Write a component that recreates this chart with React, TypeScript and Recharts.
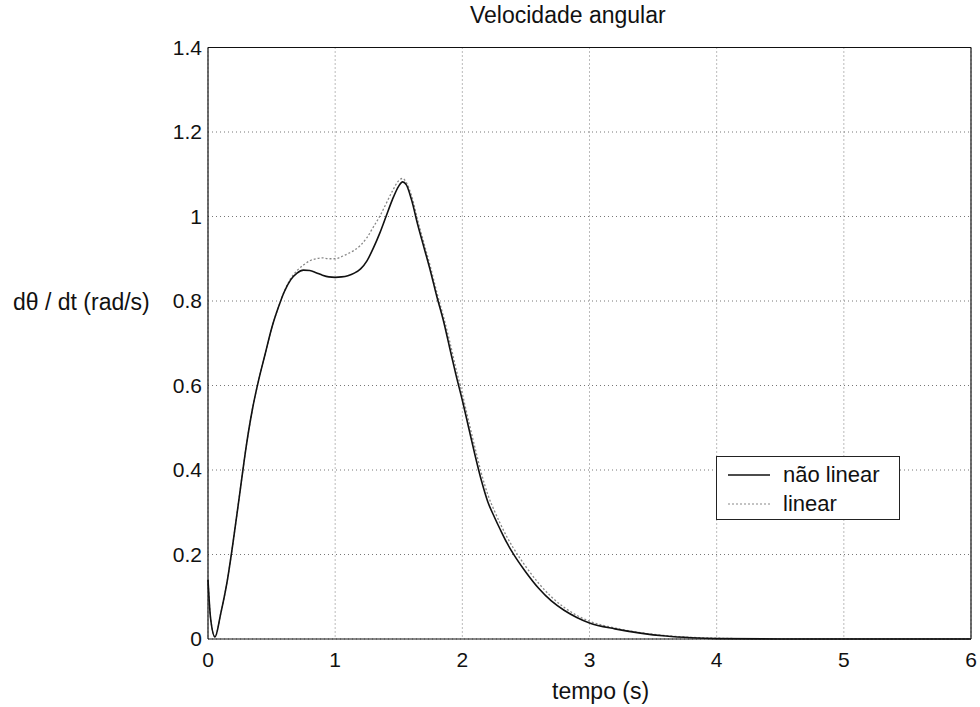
import React from "react";
import { LineChart, Line, XAxis, YAxis, CartesianGrid, ReferenceLine } from "recharts";

const tempo = [0, 0.02, 0.055, 0.1, 0.15, 0.2, 0.25, 0.3, 0.35, 0.4, 0.45, 0.5, 0.55, 0.6, 0.65, 0.7, 0.75, 0.8, 0.85, 0.9, 0.95, 1.0, 1.05, 1.1, 1.15, 1.2, 1.25, 1.3, 1.35, 1.4, 1.45, 1.5, 1.53, 1.56, 1.6, 1.65, 1.7, 1.75, 1.8, 1.85, 1.9, 1.95, 2.0, 2.05, 2.1, 2.15, 2.2, 2.25, 2.3, 2.35, 2.4, 2.5, 2.6, 2.7, 2.8, 2.9, 3.0, 3.2, 3.4, 3.6, 3.8, 4.0, 4.5, 5.0, 5.5, 6.0];
const naoLinear = [0.14, 0.05, 0.005, 0.06, 0.135, 0.235, 0.345, 0.455, 0.545, 0.615, 0.675, 0.735, 0.782, 0.822, 0.85, 0.866, 0.873, 0.872, 0.867, 0.861, 0.857, 0.856, 0.857, 0.86, 0.866, 0.876, 0.895, 0.925, 0.96, 1.0, 1.04, 1.072, 1.082, 1.075, 1.04, 0.98, 0.925, 0.87, 0.81, 0.755, 0.69, 0.625, 0.565, 0.5, 0.435, 0.375, 0.325, 0.29, 0.258, 0.228, 0.202, 0.158, 0.12, 0.09, 0.068, 0.051, 0.038, 0.024, 0.014, 0.007, 0.003, 0.001, 0, 0, 0, 0];
const linear = [0.14, 0.05, 0.005, 0.06, 0.135, 0.235, 0.345, 0.455, 0.545, 0.615, 0.675, 0.735, 0.782, 0.823, 0.853, 0.872, 0.885, 0.895, 0.9, 0.902, 0.9, 0.9, 0.905, 0.912, 0.92, 0.932, 0.95, 0.975, 1.0, 1.03, 1.06, 1.085, 1.09, 1.08, 1.05, 0.99, 0.935, 0.88, 0.82, 0.765, 0.705, 0.64, 0.58, 0.515, 0.452, 0.392, 0.342, 0.305, 0.272, 0.242, 0.216, 0.171, 0.132, 0.1, 0.075, 0.056, 0.042, 0.026, 0.015, 0.008, 0.004, 0.002, 0, 0, 0, 0];

const xTicks = [0, 1, 2, 3, 4, 5, 6];
const yTicks = [0, 0.2, 0.4, 0.6, 0.8, 1.0, 1.2, 1.4];

const data = tempo.map((t, i) => ({ t, nl: naoLinear[i], lin: linear[i] }));

const FONT = '"Liberation Sans", Arial, Helvetica, sans-serif';

const LegendBox = () => (
  <div style={{ width: 184, height: 64, border: "1px solid #222", background: "#fff", fontFamily: FONT, fontSize: 22, color: "#111", boxSizing: "border-box", padding: "3px 0 0 11px" }}>
    <div style={{ display: "flex", alignItems: "center", height: 29 }}>
      <svg width={43} height={4}><line x1={0} y1={2} x2={42} y2={2} stroke="#111" strokeWidth={1.5} /></svg>
      <span style={{ marginLeft: 12 }}>não linear</span>
    </div>
    <div style={{ display: "flex", alignItems: "center", height: 29 }}>
      <svg width={43} height={4}><line x1={0} y1={2} x2={42} y2={2} stroke="#888" strokeWidth={1.2} strokeDasharray="2 2" /></svg>
      <span style={{ marginLeft: 12 }}>linear</span>
    </div>
  </div>
);

export default function App() {
  return (
    <div style={{ position: "fixed", left: 0, top: 0, width: 980, height: 707, background: "#fff", overflow: "hidden" }}>
      <LineChart width={980} height={707} data={data} margin={{ top: 47.5, right: 9, bottom: 28, left: 0 }}>
        <CartesianGrid stroke="#777" strokeDasharray="1 3" horizontalValues={yTicks} verticalValues={xTicks} />
        <XAxis dataKey="t" type="number" domain={[0, 6]} ticks={xTicks} height={40} tickSize={0} tickMargin={13}
          axisLine={{ stroke: "#111", strokeWidth: 1.2 }} tick={{ fill: "#111", fontSize: 21, fontFamily: FONT }} />
        <YAxis type="number" domain={[0, 1.4]} ticks={yTicks} width={208} tickSize={0} tickMargin={6}
          tickFormatter={(v: number) => String(Math.round(v * 10) / 10)}
          axisLine={{ stroke: "#111", strokeWidth: 1.2 }} tick={{ fill: "#111", fontSize: 21, fontFamily: FONT }} />
        <ReferenceLine y={1.4} stroke="#111" strokeWidth={1.2} />
        <ReferenceLine x={6} stroke="#111" strokeWidth={1.2} />
        <Line dataKey="lin" type="monotone" stroke="#888" strokeWidth={1.3} strokeDasharray="2 2" dot={false} isAnimationActive={false} />
        <Line dataKey="nl" type="monotone" stroke="#111" strokeWidth={1.6} dot={false} isAnimationActive={false} />
      </LineChart>
      <div style={{ position: "absolute", left: 716, top: 456 }}><LegendBox /></div>
      <div style={{ position: "absolute", left: 470, top: 4, fontFamily: FONT, fontSize: 23, lineHeight: "23px", color: "#111", whiteSpace: "nowrap" }}>Velocidade angular</div>
      <div style={{ position: "absolute", left: 552, top: 680, fontFamily: FONT, fontSize: 23, lineHeight: "23px", color: "#111", whiteSpace: "nowrap" }}>tempo (s)</div>
      <div style={{ position: "absolute", left: 13, top: 291, fontFamily: FONT, fontSize: 23, lineHeight: "23px", color: "#111", whiteSpace: "nowrap" }}>dθ / dt (rad/s)</div>
    </div>
  );
}
